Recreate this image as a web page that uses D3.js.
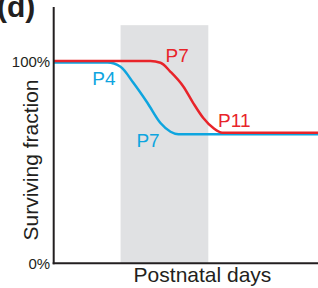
<!DOCTYPE html>
<html>
<head>
<meta charset="utf-8">
<script src="https://cdn.jsdelivr.net/npm/d3@7"></script>
<style>
  body { margin: 0; background: #fff; }
  text { font-family: Arial, "Liberation Sans", sans-serif; }
</style>
</head>
<body>
<div id="chart"></div>
<script>
var width = 318;
var height = 288;

// Schematic time axis (arbitrary units 0-100) and surviving fraction (%)
var redDays  = [0, 36.6, 40.4, 44.2, 49.1, 52.8, 56.6, 60.4, 63.8, 100];
var redFrac  = [100.2, 100.2, 99.4, 94.9, 87.5, 79.4, 72.0, 67.0, 64.7, 64.7];
var blueDays = [0, 20.4, 25.3, 30.2, 35.5, 40.4, 44.2, 47.2, 100];
var blueFrac = [99.5, 99.5, 97.4, 89.3, 79.4, 69.5, 65.2, 63.9, 63.9];

// Shaded window
var shadeDays = [25.3, 58.5];
var shadeTop = 118;

// Tick labels
var yTicks = [0, 100];

// Curve annotations: [day, fraction, text]
var redLabels  = [[42.3, 99.8, "P7"], [62.2, 67.4, "P11"]];
var blueLabels = [[14.6, 88.4, "P4"], [31.3, 57.6, "P7"]];

var red = "#e8242a";
var blue = "#0ea5df";

var x = d3.scaleLinear().domain([0, 100]).range([53.7, 318]);
var y = d3.scaleLinear().domain([0, 100]).range([263.3, 61.5]);

var svg = d3.select("#chart").append("svg")
    .attr("width", width)
    .attr("height", height);

// Shaded period
svg.append("rect")
  .attr("x", x(shadeDays[0]))
  .attr("y", y(shadeTop))
  .attr("width", x(shadeDays[1]) - x(shadeDays[0]))
  .attr("height", y(0) - y(shadeTop))
  .attr("fill", "#e0e1e3");

var line = d3.line()
  .x(d => x(d[0]))
  .y(d => y(d[1]))
  .curve(d3.curveMonotoneX);

svg.append("path")
  .datum(blueDays.map((d, i) => [d, blueFrac[i]]))
  .attr("d", line)
  .attr("fill", "none")
  .attr("stroke", blue)
  .attr("stroke-width", 2.5);

svg.append("path")
  .datum(redDays.map((d, i) => [d, redFrac[i]]))
  .attr("d", line)
  .attr("fill", "none")
  .attr("stroke", red)
  .attr("stroke-width", 2.5);

// Axes (plain lines, no tick marks)
svg.append("line")
  .attr("x1", x(0)).attr("x2", x(0))
  .attr("y1", 7).attr("y2", y(0) + 1)
  .attr("stroke", "#231f20").attr("stroke-width", 2);

svg.append("line")
  .attr("x1", x(0) - 1).attr("x2", width)
  .attr("y1", y(0)).attr("y2", y(0))
  .attr("stroke", "#231f20").attr("stroke-width", 2);

svg.selectAll("text.ytick")
  .data(yTicks)
  .enter().append("text")
    .attr("class", "ytick")
    .attr("x", x(0) - 3.5)
    .attr("y", d => y(d) + 5.5)
    .attr("text-anchor", "end")
    .attr("font-size", 15)
    .attr("fill", "#231f20")
    .text(d => d + "%");

svg.selectAll("text.rlab")
  .data(redLabels)
  .enter().append("text")
    .attr("class", "rlab")
    .attr("x", d => x(d[0]))
    .attr("y", d => y(d[1]))
    .attr("font-size", 19)
    .attr("fill", red)
    .text(d => d[2]);

svg.selectAll("text.blab")
  .data(blueLabels)
  .enter().append("text")
    .attr("class", "blab")
    .attr("x", d => x(d[0]))
    .attr("y", d => y(d[1]))
    .attr("font-size", 19)
    .attr("fill", blue)
    .text(d => d[2]);

// Axis titles
svg.append("text")
  .attr("transform", "translate(38,160) rotate(-90)")
  .attr("text-anchor", "middle")
  .attr("font-size", 21)
  .attr("fill", "#231f20")
  .text("Surviving fraction");

svg.append("text")
  .attr("x", 202.5)
  .attr("y", 282)
  .attr("text-anchor", "middle")
  .attr("font-size", 21)
  .attr("fill", "#231f20")
  .text("Postnatal days");

// Panel letter
svg.append("text")
  .attr("x", -3)
  .attr("y", 17)
  .attr("font-size", 30)
  .attr("font-weight", "bold")
  .attr("fill", "#231f20")
  .text("(d)");
</script>
</body>
</html>
